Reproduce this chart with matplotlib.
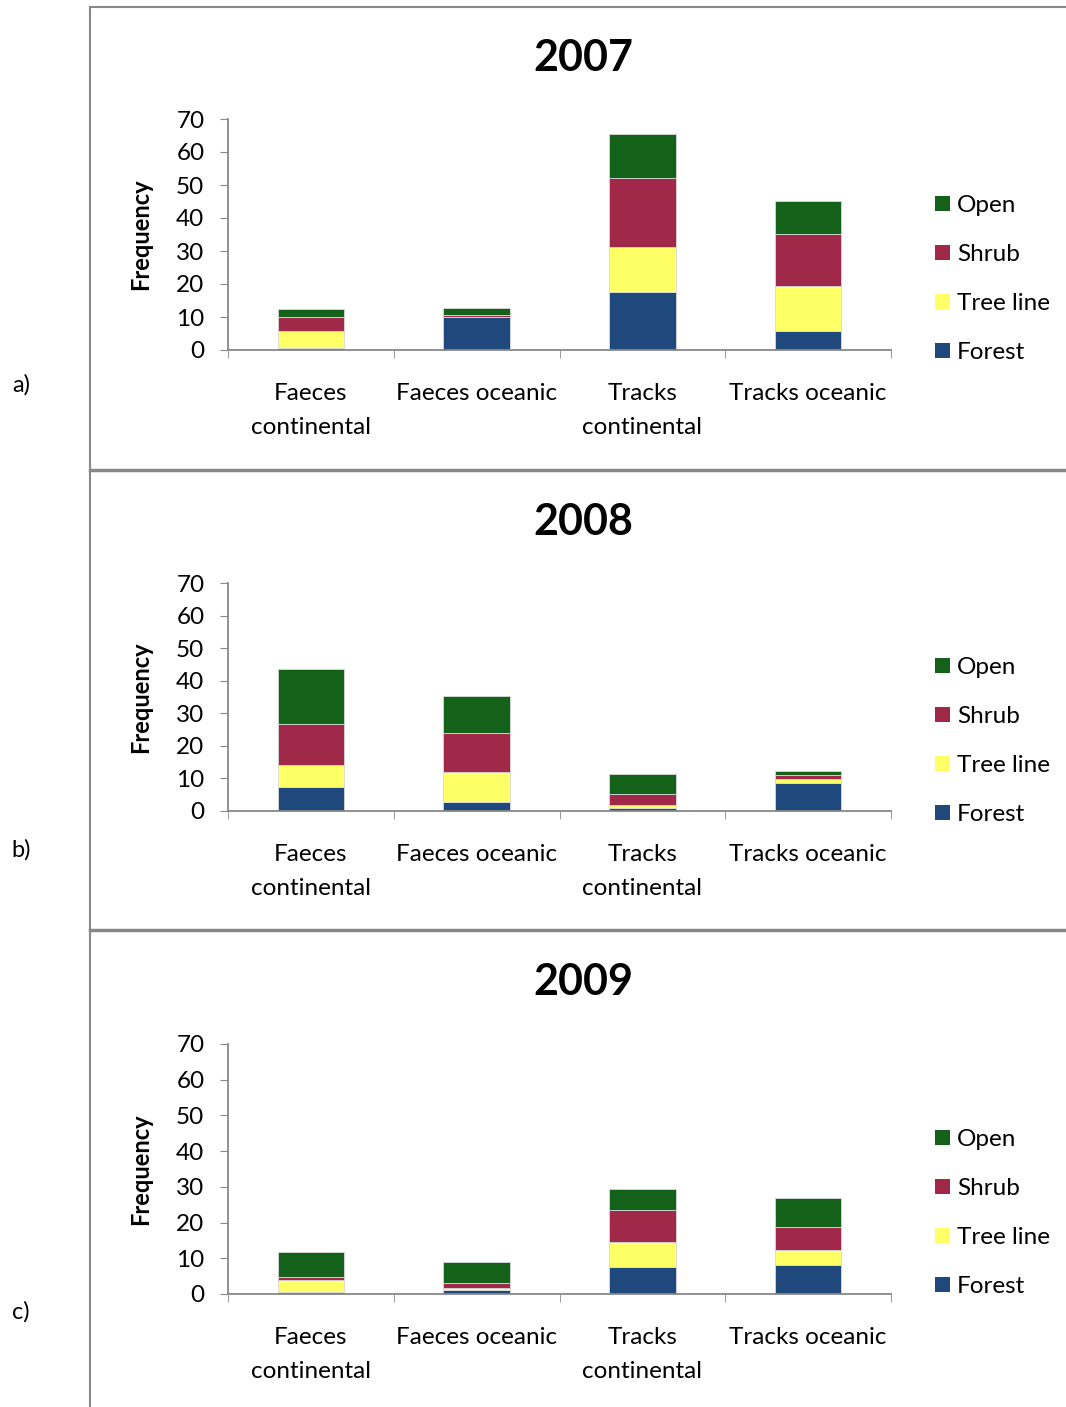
import matplotlib
matplotlib.use("Agg")
import matplotlib.pyplot as plt
import numpy as np
from matplotlib.lines import Line2D
from matplotlib.patches import Patch

plt.rcParams['font.family'] = ['Lato', 'DejaVu Sans']

# data
kategorier = ["Faeces\ncontinental", "Faeces oceanic", "Tracks\ncontinental", "Tracks oceanic"]
aar = ["2007", "2008", "2009"]
panel_bokstav = ["a)", "b)", "c)"]
habitater = ["Forest", "Tree line", "Shrub", "Open"]

forest = {
    "2007": [0.7, 10.0, 17.7, 5.7],
    "2008": [7.5, 2.7, 0.8, 8.7],
    "2009": [0.6, 1.0, 7.5, 8.0],
}
tree_line = {
    "2007": [5.0, 0.0, 13.6, 13.6],
    "2008": [6.7, 9.2, 1.1, 1.0],
    "2009": [3.2, 0.6, 7.2, 4.4],
}
shrub = {
    "2007": [4.2, 0.7, 20.9, 15.8],
    "2008": [12.5, 12.2, 3.4, 1.4],
    "2009": [1.0, 1.6, 8.8, 6.3],
}
open_ = {
    "2007": [2.6, 2.1, 13.2, 10.0],
    "2008": [17.0, 11.3, 6.1, 1.1],
    "2009": [7.0, 5.7, 6.0, 8.3],
}
farger = {"Forest": "#1F497D", "Tree line": "#FFFF66", "Shrub": "#A0294A", "Open": "#14621A"}

W, H = 1066, 1407
fig = plt.figure(figsize=(W / 100, H / 100), dpi=100)

# (topp av akse for 70, bunn for 0, tittel y, bokstav y, legend midt y) i piksler
paneler = [
    (119, 350, 58, 385, 279),
    (583, 811, 522, 850, 741),
    (1044, 1294, 982, 1312, 1213),
]
venstre, hoyre = 228, 891

for i, a in enumerate(aar):
    topp, bunn, tittel_y, bokstav_y, leg_y = paneler[i]
    ax = fig.add_axes([venstre / W, 1 - bunn / H, (hoyre - venstre) / W, (bunn - topp) / H])
    x = np.arange(len(kategorier))
    bunnen = np.zeros(len(kategorier))
    for hab, verdier in zip(habitater, [forest[a], tree_line[a], shrub[a], open_[a]]):
        ax.bar(x, verdier, 0.4, bottom=bunnen, color=farger[hab],
               edgecolor="#d8d8d8", linewidth=0.6, label=hab)
        bunnen += np.array(verdier)

    ax.set_xlim(-0.5, len(kategorier) - 0.5)
    ax.set_ylim(0, 70)
    ax.set_yticks(range(0, 71, 10))
    ax.set_xticks(x)
    ax.set_xticklabels(kategorier, fontsize=17.5, linespacing=1.72)
    ax.set_xticks(np.arange(-0.5, len(kategorier)), minor=True)
    ax.tick_params(axis="x", which="major", length=0, pad=24)
    ax.tick_params(axis="x", which="minor", length=6, color="#888888", direction="out")
    ax.tick_params(axis="y", length=6, color="#888888", labelsize=17.5, pad=11)
    for s in ["top", "right"]:
        ax.spines[s].set_visible(False)
    for s in ["left", "bottom"]:
        ax.spines[s].set_color("#888888")
        ax.spines[s].set_linewidth(1.3)

    handles = [Patch(facecolor=farger[h], label=h) for h in ["Open", "Shrub", "Tree line", "Forest"]]
    midt = (bunn - leg_y) / (bunn - topp)
    ax.legend(handles=handles, loc="center left", bbox_to_anchor=((935 - venstre) / (hoyre - venstre), midt),
              frameon=False, fontsize=17.5, handlelength=0.6, handleheight=0.6,
              handletextpad=0.3, labelspacing=1.15, borderpad=0, borderaxespad=0)

    fig.text(583 / W, 1 - tittel_y / H, a, fontsize=31, fontweight="bold", ha="center", va="center")
    fig.text(141 / W, 1 - ((topp + bunn) / 2) / H, "Frequency", rotation=90, fontsize=17,
             fontweight="bold", ha="center", va="center")
    fig.text(21 / W, 1 - bokstav_y / H, panel_bokstav[i], fontsize=17, ha="center", va="center")

# rammer rundt panelene
fig.add_artist(Line2D([90 / W, 90 / W], [1 - 7 / H, 0], color="#888888", lw=1.5))
fig.add_artist(Line2D([90 / W, 1], [1 - 7 / H, 1 - 7 / H], color="#888888", lw=1.5))
for y in [470, 930]:
    fig.add_artist(Line2D([90 / W, 1], [1 - y / H, 1 - y / H], color="#888888", lw=2.5))

fig.savefig("out.png", dpi=100)
